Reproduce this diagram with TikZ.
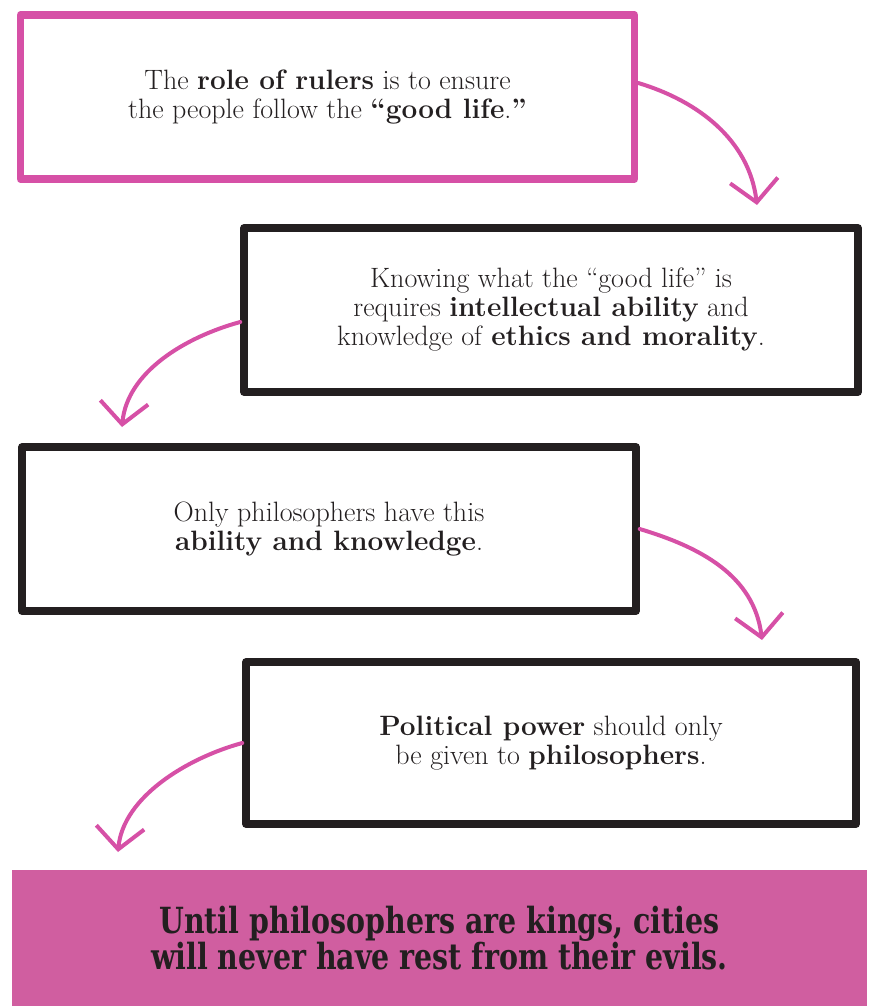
\documentclass[tikz,border=0pt]{standalone}
\usepackage{fontspec}
\newfontfamily\verdictfont[FakeStretch=0.79]{DejaVu Serif}
\usetikzlibrary{arrows.meta}
\usepackage{xcolor}
\definecolor{inkpink}{RGB}{214,80,166}
\definecolor{boxpink}{RGB}{208,94,160}
\definecolor{ink}{RGB}{35,31,32}

\begin{document}
\begin{tikzpicture}[x=1pt, y=-1pt,
        claim/.style={rectangle, draw=ink, line width=7.5pt, line join=round, minimum width=614pt, minimum height=164pt, inner sep=0pt, align=center, text=ink, font=\fontsize{28}{29}\selectfont},
        pinkclaim/.style={claim, draw=inkpink},
        verdict/.style={rectangle, fill=boxpink, minimum width=855pt, minimum height=136pt, inner sep=0pt, align=center, text=ink, font=\verdictfont\bfseries\fontsize{36}{36}\selectfont},
        arrow/.style={-{Straight Barb[length=22pt, width=48pt]}, draw=inkpink, line width=4pt, line cap=round}
    ]
        \useasboundingbox (0,0) rectangle (873,1006);

        % Steps of the argument
        \node[pinkclaim] (r1) at (327.5, 97) {The \textbf{role of rulers} is to ensure\\the people follow the \textbf{``good life}.\textbf{''}};
        \node[claim] (r2) at (551, 310) {Knowing what the ``good life'' is\\requires \textbf{intellectual ability} and\\knowledge of \textbf{ethics and morality}.};
        \node[claim] (r3) at (329, 529) {Only philosophers have this\\\textbf{ability and knowledge}.};
        \node[claim, minimum width=610pt, minimum height=162pt] (r4) at (551, 743) {\textbf{Political power} should only\\be given to \textbf{philosophers}.};

        % Conclusion
        \node[verdict] (kings) at (439.5, 938) {Until philosophers are kings, cities\\will never have rest from their evils.};

        % Arrow tips
        \coordinate (t1) at (757, 205);
        \coordinate (t2) at (122, 427);
        \coordinate (t3) at (762, 640);
        \coordinate (t4) at (118, 852);

        % Arrows between steps
        \draw[arrow] ([yshift=14pt]r1.east) .. controls +(60,18) and +(-8,-65) .. (t1);
        \draw[arrow] ([yshift=-12pt]r2.west) .. controls +(-55,15) and +(5,-55) .. (t2);
        \draw[arrow] (r3.east) .. controls +(60,18) and +(-8,-65) .. (t3);
        \draw[arrow] (r4.west) .. controls +(-55,15) and +(5,-55) .. (t4);
    \end{tikzpicture}
\end{document}
